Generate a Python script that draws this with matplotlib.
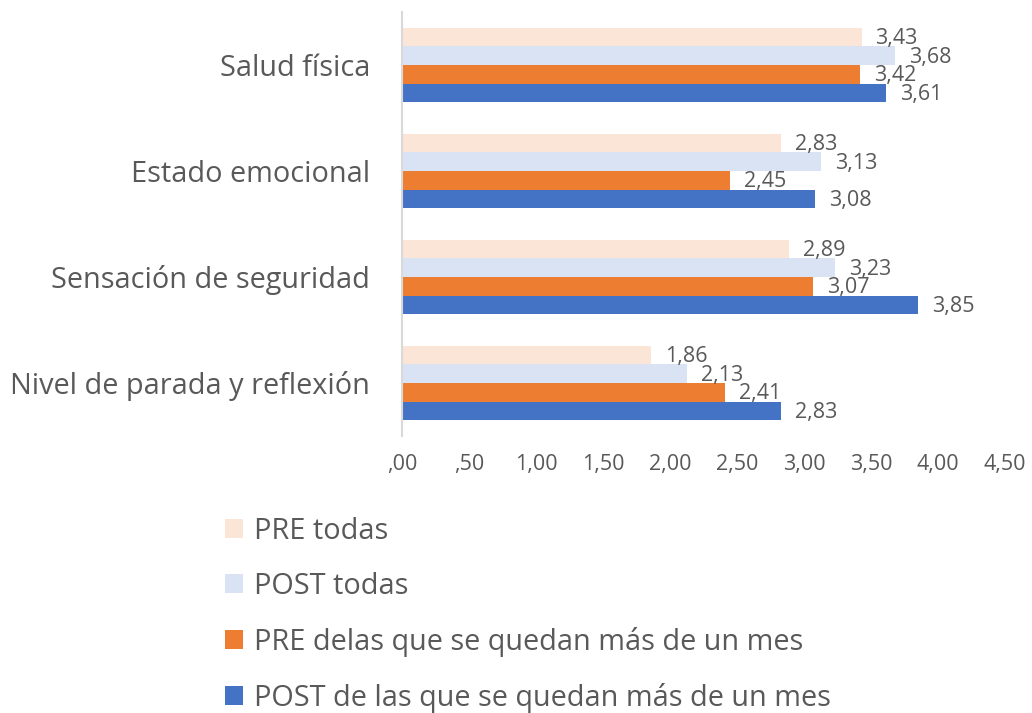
import matplotlib.pyplot as plt
import numpy as np

# datos
categorias = ["Salud física", "Estado emocional", "Sensación de seguridad",
              "Nivel de parada y reflexión"]
series = ["PRE todas", "POST todas", "PRE delas que se quedan más de un mes",
          "POST de las que se quedan más de un mes"]
pre_todas = [3.43, 2.83, 2.89, 1.86]
post_todas = [3.68, 3.13, 3.23, 2.13]
pre_mes = [3.42, 2.45, 3.07, 2.41]
post_mes = [3.61, 3.08, 3.85, 2.83]
ticks = [0, 0.5, 1, 1.5, 2, 2.5, 3, 3.5, 4, 4.5]
tick_labels = [",00", ",50", "1,00", "1,50", "2,00", "2,50", "3,00", "3,50", "4,00", "4,50"]

colores = ["#FBE5D6", "#DAE3F3", "#ED7D31", "#4472C4"]
gris = "#595959"

plt.rcParams['font.family'] = ['Open Sans', 'DejaVu Sans']

fig = plt.figure(figsize=(10.32, 7.13), dpi=100)
ax = fig.add_axes([0.3895, 0.3885, 0.5843, 0.5947])

valores = [pre_todas, post_todas, pre_mes, post_mes]
y = np.arange(len(categorias))
h = 0.175
for i, (vals, nombre, col) in enumerate(zip(valores, series, colores)):
    pos = y + (i - 1.5) * h
    ax.barh(pos, vals, height=h, color=col, label=nombre)
    for p, v in zip(pos, vals):
        ax.annotate(f"{v:.2f}".replace(".", ","), (v, p), xytext=(10, -1),
                    textcoords="offset points", va="center", ha="left",
                    fontsize=15.5, color=gris)

ax.set_ylim(len(categorias) - 0.5, -0.5)
ax.set_xlim(0, 4.5)
ax.set_yticks(y)
ax.set_yticklabels(categorias, fontsize=20.8, color=gris)
ax.set_xticks(ticks)
ax.set_xticklabels(tick_labels, fontsize=15.5, color=gris)
ax.tick_params(axis="both", length=0)
ax.tick_params(axis="x", pad=13)
ax.tick_params(axis="y", pad=23)
for s in ["top", "right", "bottom"]:
    ax.spines[s].set_visible(False)
ax.spines["left"].set_color("#D9D9D9")
ax.spines["left"].set_linewidth(1.5)

fig.legend(loc="upper left", bbox_to_anchor=(0.218, 0.2755), frameon=False,
           fontsize=20.8, labelcolor=gris, handlelength=0.62, handleheight=0.62,
           handletextpad=0.38, labelspacing=0.90, borderpad=0, borderaxespad=0)

fig.savefig("out.png", dpi=100)
